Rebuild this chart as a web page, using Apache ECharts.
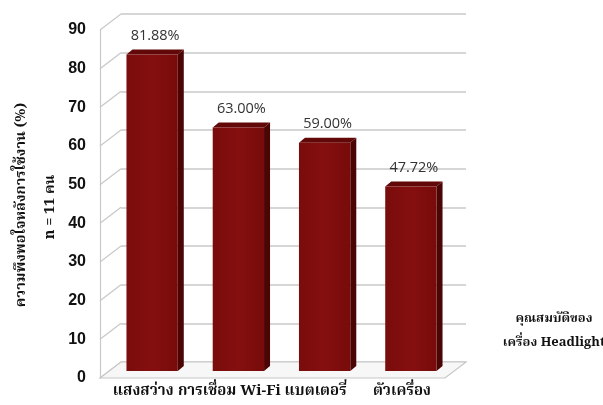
<!DOCTYPE html>
<html>
<head>
<meta charset="utf-8">
<script src="https://cdn.jsdelivr.net/npm/echarts@6/dist/echarts.min.js"></script>
<style>
html,body{margin:0;padding:0;background:#fff;}
#c{width:603px;height:405px;}
</style>
</head>
<body>
<div id="c"></div>
<script>
const categories = ['แสงสว่าง', 'การเชื่อม Wi-Fi', 'แบตเตอรี่', 'ตัวเครื่อง'];
const values = [81.88, 63.00, 59.00, 47.72];
const yTicks = [0, 10, 20, 30, 40, 50, 60, 70, 80, 90];
const yTitle = 'ความพึงพอใจหลังการใช้งาน (%)';
const yTitle2 = 'n = 11 คน';
const xTitle = 'คุณสมบัติของ\nเครื่อง Headlight';

const THAI = '"Noto Serif Thai","Noto Sans Thai","Liberation Serif","DejaVu Serif",serif';
const DX = 21, DY = 16;          // depth of back wall
const BOX = 9, BOY = -7;         // bar depth position
const SD = 6, SDY = 5;           // bar side depth

const chart = echarts.init(document.getElementById('c'));
chart.setOption({
  animation: false,
  grid: [
    {left: 100, right: 158, top: 30, bottom: 27, containLabel: false, outerBoundsMode: 'none'},
    {left: 100 + DX, right: 158 - DX, top: 30 - DY, bottom: 27 + DY, containLabel: false, outerBoundsMode: 'none'}
  ],
  xAxis: [
    {type: 'category', gridIndex: 0, data: categories,
     axisLine: {show: false}, axisTick: {show: false},
     axisLabel: {interval: 0, margin: 7, fontFamily: THAI, fontWeight: 'bold', fontSize: 15, color: '#111'}},
    {type: 'category', gridIndex: 1, data: categories, show: false}
  ],
  yAxis: [
    {type: 'value', gridIndex: 0, min: 0, max: 90, interval: 10,
     axisLine: {show: true, lineStyle: {color: '#c8c8c8', width: 1.2}},
     axisTick: {show: false}, splitLine: {show: false},
     axisLabel: {margin: 14, fontFamily: 'Liberation Sans, Arial, sans-serif', fontWeight: 'bold', fontSize: 16, color: '#111'}},
    {type: 'value', gridIndex: 1, min: 0, max: 90, interval: 10,
     axisLine: {show: false}, axisTick: {show: false}, axisLabel: {show: false},
     splitLine: {show: true, lineStyle: {color: '#c8c8c8', width: 1.5}}}
  ],
  graphic: [
    {type: 'text', x: 23, y: 205, rotation: Math.PI / 2,
     style: {text: yTitle, fontFamily: THAI, fontWeight: 'bold', fontSize: 14.5, fill: '#111',
             textAlign: 'center', textVerticalAlign: 'middle'}},
    {type: 'text', x: 52, y: 207, rotation: Math.PI / 2,
     style: {text: yTitle2, fontFamily: THAI, fontWeight: 'bold', fontSize: 14.5, fill: '#111',
             textAlign: 'center', textVerticalAlign: 'middle'}},
    {type: 'text', x: 554, y: 308,
     style: {text: xTitle, fontFamily: THAI, fontWeight: 'bold', fontSize: 13, fill: '#111', lineHeight: 24, textAlign: 'center'}}
  ],
  series: [
    {type: 'custom', xAxisIndex: 0, yAxisIndex: 0, z: 1, silent: true,
     data: yTicks.map(v => [0, v]),
     renderItem: function (params, api) {
       const cs = params.coordSys;
       const y = api.coord([0, api.value(1)])[1];
       return {type: 'line', shape: {x1: cs.x, y1: y, x2: cs.x + DX, y2: y - DY},
               style: {stroke: '#c8c8c8', lineWidth: 1.2}};
     }},
    {type: 'custom', xAxisIndex: 0, yAxisIndex: 0, z: 2, silent: true,
     data: [[0, 0]],
     renderItem: function (params, api) {
       const cs = params.coordSys;
       const y = api.coord([0, 0])[1];
       return {type: 'polygon',
               shape: {points: [[cs.x, y], [cs.x + cs.width, y], [cs.x + cs.width + DX, y - DY], [cs.x + DX, y - DY]]},
               style: {fill: '#f7f7f7', stroke: '#c8c8c8', lineWidth: 1.2}};
     }},
    {type: 'custom', xAxisIndex: 0, yAxisIndex: 0, z: 3,
     data: values.map((v, i) => [i, v]),
     renderItem: function (params, api) {
       const i = api.value(0), v = api.value(1);
       const base = api.coord([i, 0]);
       const top = api.coord([i, v]);
       const bw = api.size([1, 0])[0] * 0.595;
       const x = base[0] - bw / 2 + BOX;
       const y = top[1] + BOY;
       const h = base[1] - top[1];
       return {type: 'group', children: [
         {type: 'polygon', shape: {points: [[x + bw, y], [x + bw + SD, y - SDY], [x + bw + SD, y + h - SDY], [x + bw, y + h]]},
          style: {fill: '#4c0505'}},
         {type: 'polygon', shape: {points: [[x, y], [x + SD, y - SDY], [x + bw + SD, y - SDY], [x + bw, y]]},
          style: {fill: '#620808'}},
         {type: 'rect', shape: {x: x, y: y, width: bw, height: h},
          style: {fill: new echarts.graphic.LinearGradient(0, 0, 1, 0, [
            {offset: 0, color: '#7a0c0c'}, {offset: 0.5, color: '#850f0f'}, {offset: 1, color: '#780b0b'}])}},
         {type: 'text', x: x + bw / 2 + SD / 2, y: y - SDY - 6,
          style: {text: v.toFixed(2) + '%', fontFamily: '"Open Sans", "Noto Sans", sans-serif', fontSize: 14.5,
                  fill: '#333', textAlign: 'center', textVerticalAlign: 'bottom'}}
       ]};
     }}
  ]
});
</script>
</body>
</html>
